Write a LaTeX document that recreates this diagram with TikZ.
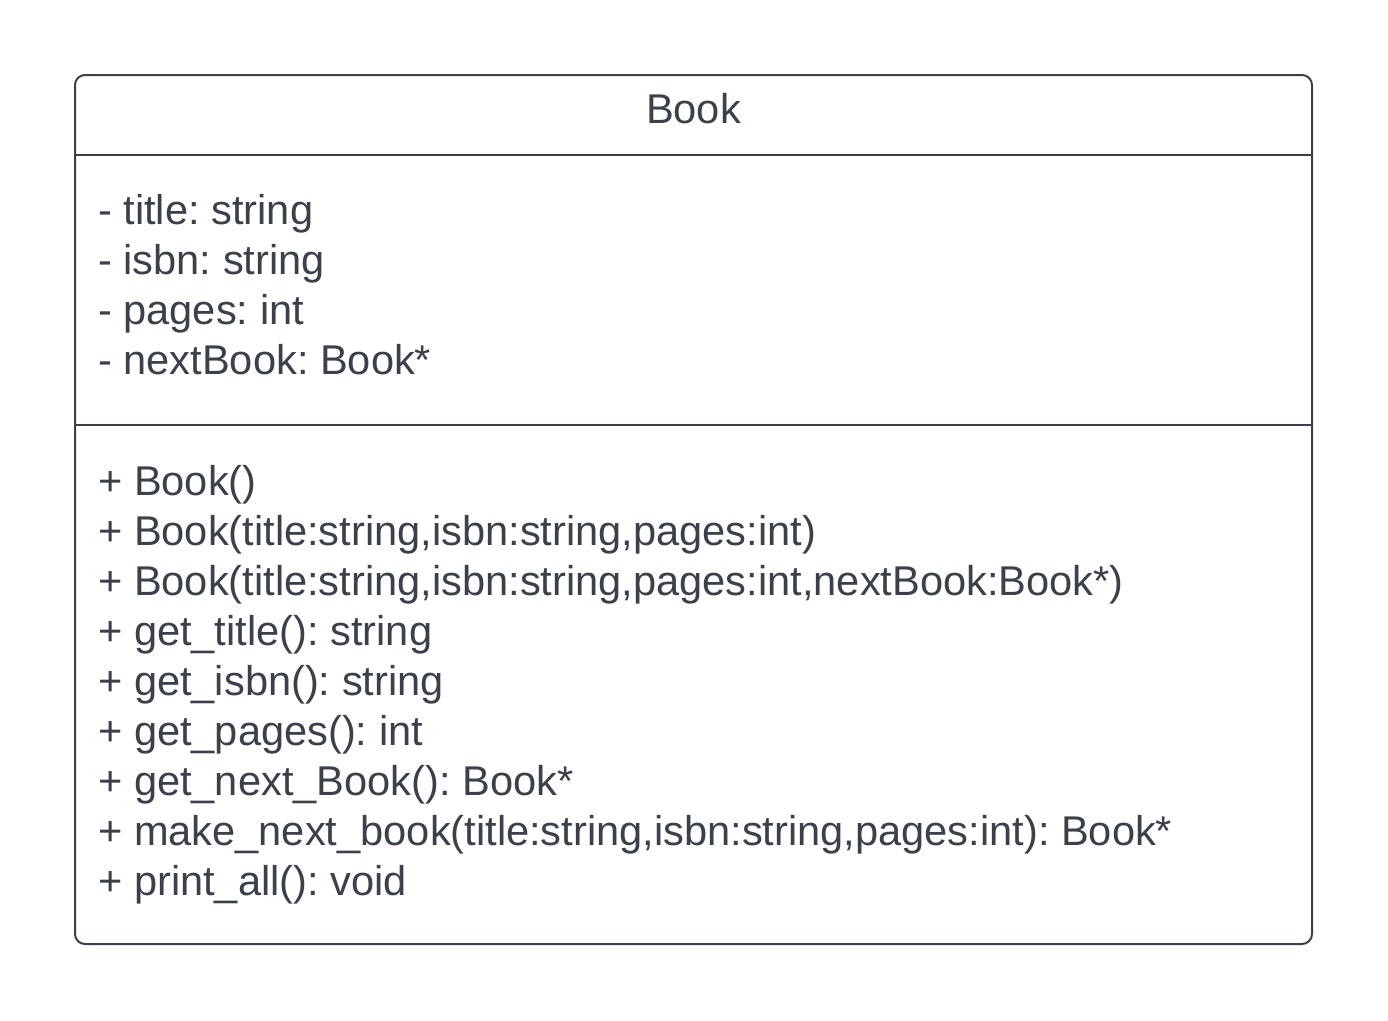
\documentclass[tikz,border=0pt]{standalone}
\usepackage{fontspec}
\setmainfont{Liberation Sans}
\definecolor{ink}{HTML}{3A414A}
\frenchspacing
\begin{document}
\begin{tikzpicture}[x=1pt,y=-1pt,
  line/.style={draw=ink,line width=2pt},
  member/.style={anchor=base west,inner sep=0pt,text=ink,font=\fontsize{41.6}{50}\selectfont},
  heading/.style={anchor=base,inner sep=0pt,text=ink,font=\fontsize{41.6}{50}\selectfont}]
\useasboundingbox (0,0) rectangle (1388,1020);
% class frame and compartments
\draw[line,rounded corners=10pt] (75,75) rectangle (1312,944);
\coordinate (d1l) at (75,155);  \coordinate (d1r) at (1312,155);
\coordinate (d2l) at (75,425);  \coordinate (d2r) at (1312,425);
\draw[line] (d1l) -- (d1r);
\draw[line] (d2l) -- (d2r);
% class name
\node[heading] (name) at (693.5,123) {Book};
% attributes
\node[member] (a1) at (98,224.5) {- title: string};
\node[member] (a2) at (98,274.5) {- isbn: string};
\node[member] (a3) at (98,324.5) {- pages: int};
\node[member] (a4) at (98,374.5) {- nextBook: Book*};
% operations
\node[member] (m1) at (98,495) {+ Book()};
\node[member] (m2) at (98,545) {+ Book(title:string,isbn:string,pages:int)};
\node[member] (m3) at (98,595) {+ Book(title:string,isbn:string,pages:int,nextBook:Book*)};
\node[member] (m4) at (98,645) {+ get\_title(): string};
\node[member] (m5) at (98,695) {+ get\_isbn(): string};
\node[member] (m6) at (98,745) {+ get\_pages(): int};
\node[member] (m7) at (98,795) {+ get\_next\_Book(): Book*};
\node[member] (m8) at (98,845) {+ make\_next\_book(title:string,isbn:string,pages:int): Book*};
\node[member] (m9) at (98,895) {+ print\_all(): void};
\end{tikzpicture}
\end{document}
